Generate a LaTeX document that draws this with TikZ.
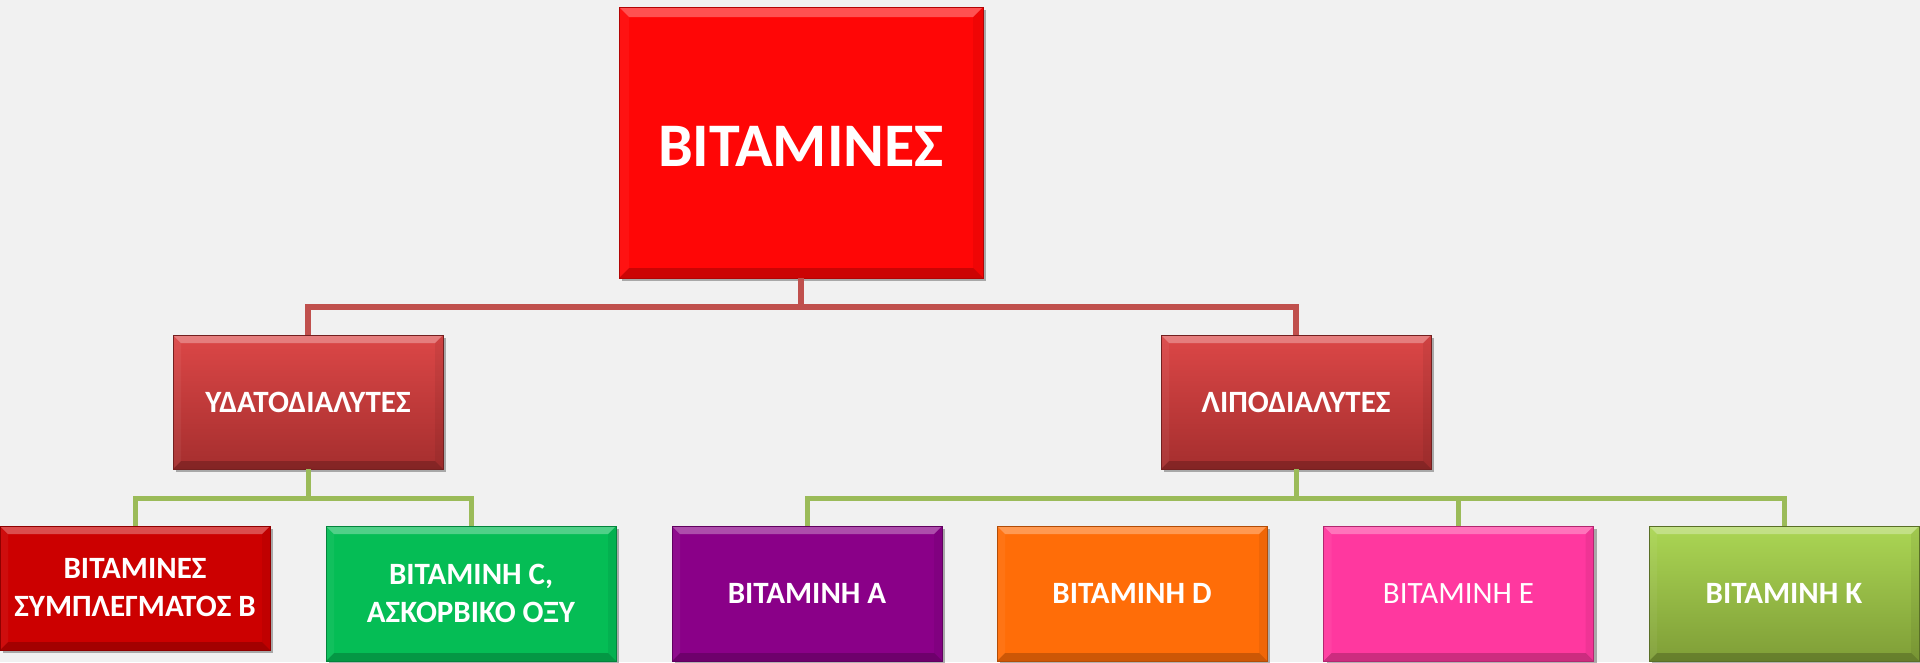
\documentclass[tikz,border=0pt]{standalone}
\usepackage{fontspec}
\setmainfont{Carlito}
\usetikzlibrary{shadows}

\definecolor{bggrey}{HTML}{F1F1F1}
\definecolor{vitred}{HTML}{FF0606}
\definecolor{soltop}{HTML}{DC4747}
\definecolor{solbot}{HTML}{A52E2E}
\definecolor{bred}{HTML}{CC0000}
\definecolor{cgreen}{HTML}{05BD55}
\definecolor{apurple}{HTML}{8A0088}
\definecolor{dorange}{HTML}{FF6D08}
\definecolor{epink}{HTML}{FF389F}
\definecolor{ktop}{HTML}{ABD654}
\definecolor{kbot}{HTML}{7F9E37}
\definecolor{redlinkc}{HTML}{C0504D}
\definecolor{greenlinkc}{HTML}{9BBB59}

\tikzset{
  bevel/.style={path picture={
    \fill[white,opacity=0.3] (path picture bounding box.north west) -- (path picture bounding box.north east)
      -- ([xshift=-#1,yshift=-#1]path picture bounding box.north east) -- ([xshift=#1,yshift=-#1]path picture bounding box.north west) -- cycle;
    \fill[black,opacity=0.2] (path picture bounding box.south west) -- (path picture bounding box.south east)
      -- ([xshift=-#1,yshift=#1]path picture bounding box.south east) -- ([xshift=#1,yshift=#1]path picture bounding box.south west) -- cycle;
    \fill[white,opacity=0.05] (path picture bounding box.north west) -- (path picture bounding box.south west)
      -- ([xshift=#1,yshift=#1]path picture bounding box.south west) -- ([xshift=#1,yshift=-#1]path picture bounding box.north west) -- cycle;
    \fill[black,opacity=0.06] (path picture bounding box.north east) -- (path picture bounding box.south east)
      -- ([xshift=-#1,yshift=#1]path picture bounding box.south east) -- ([xshift=-#1,yshift=-#1]path picture bounding box.north east) -- cycle;
  }},
  vitbox/.style={rectangle, draw=#1!70!black, line width=0.6pt, fill=#1, text=white,
    font=\bfseries\fontsize{31}{38}\selectfont, align=center, inner sep=0pt,
    minimum width=270pt, minimum height=135pt, bevel=8pt,
    drop shadow={shadow xshift=3pt, shadow yshift=-3pt, opacity=0.3, fill=black}},
  redlink/.style={draw=redlinkc, line width=5.5pt},
  greenlink/.style={draw=greenlinkc, line width=5pt},
}

\begin{document}
\begin{tikzpicture}[x=1pt,y=-1pt]
    \useasboundingbox (0,0) rectangle (1920,662);
    \fill[bggrey] (0,0) rectangle (1920,662);

    % Top
    \node [vitbox=vitred, minimum width=364pt, minimum height=271pt, bevel=10pt,
           text height=48pt, text depth=0pt,
           font=\bfseries\fontsize{62}{74}\selectfont] (vit) at (801,142.5) {ΒΙΤΑΜΙΝΕΣ};

    % Second level
    \node [vitbox=solbot, top color=soltop, bottom color=solbot, minimum height=134pt] (ydat) at (308,402) {ΥΔΑΤΟΔΙΑΛΥΤΕΣ};
    \node [vitbox=solbot, top color=soltop, bottom color=solbot, minimum height=134pt] (lipo) at (1296,402) {ΛΙΠΟΔΙΑΛΥΤΕΣ};

    % Third level
    \node [vitbox=bred, minimum height=124pt] (vb) at (135,588) {ΒΙΤΑΜΙΝΕΣ\\ΣΥΜΠΛΕΓΜΑΤΟΣ Β};
    \node [vitbox=cgreen, minimum width=290pt] (vc) at (471,593.5) {ΒΙΤΑΜΙΝΗ C,\\ΑΣΚΟΡΒΙΚΟ ΟΞΥ};
    \node [vitbox=apurple] (va) at (807,593.5) {ΒΙΤΑΜΙΝΗ Α};
    \node [vitbox=dorange] (vd) at (1132,593.5) {ΒΙΤΑΜΙΝΗ D};
    \node [vitbox=epink, font=\mdseries\fontsize{31}{38}\selectfont] (ve) at (1458.5,593.5) {ΒΙΤΑΜΙΝΗ Ε};
    \node [vitbox=kbot, top color=ktop, bottom color=kbot] (vk) at (1784,593.5) {ΒΙΤΑΜΙΝΗ Κ};

    % Links
    \coordinate (bartop) at (801,307);
    \draw [redlink] (vit.south) -- (bartop) -| (ydat.north);
    \draw [redlink] (bartop) -| (lipo.north);

    \coordinate (barleft) at (308,498);
    \draw [greenlink] (ydat.south) -- (barleft);
    \foreach \n in {vb,vc}
        \draw [greenlink] (barleft) -| (\n.north);

    \coordinate (barright) at (1296,498);
    \draw [greenlink] (lipo.south) -- (barright);
    \foreach \n in {va,ve,vk}
        \draw [greenlink] (barright) -| (\n.north);
\end{tikzpicture}
\end{document}
